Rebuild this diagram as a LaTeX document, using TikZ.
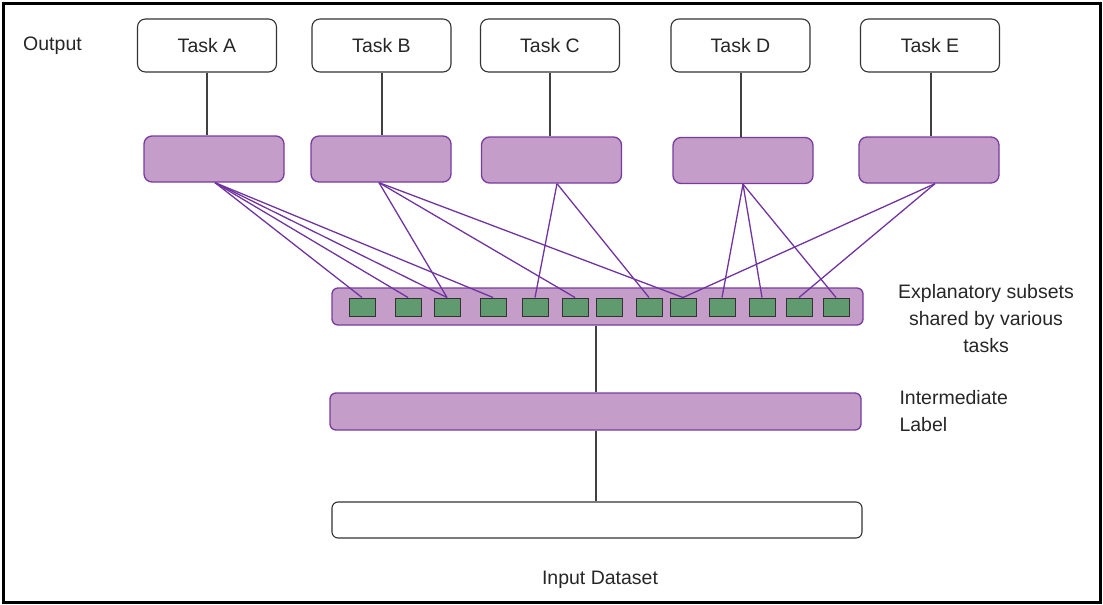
\documentclass[tikz,border=0pt]{standalone}
\usepackage{fontspec}
\setmainfont{Liberation Sans}
\begin{document}
\begin{tikzpicture}[x=1pt,y=-1pt,
  every node/.style={font=\fontsize{19.5}{27}\selectfont, text=black!85},
  taskbox/.style={draw=black!80, line width=1.1pt, rounded corners=8pt, fill=white, minimum width=139pt, minimum height=53pt, inner sep=0pt},
  pbox/.style={draw=pborder, line width=1.3pt, rounded corners=8pt, fill=pfill, minimum width=140pt, minimum height=46pt, inner sep=0pt},
  bar/.style={draw=pborder, line width=1.3pt, rounded corners=6pt, fill=pfill, inner sep=0pt},
  sq/.style={draw=black!80, line width=1pt, fill=sqgreen, minimum width=26pt, minimum height=18pt, inner sep=0pt},
  conn/.style={draw=pline, line width=1.3pt},
  stem/.style={draw=black!75, line width=1.6pt}
]
\definecolor{pfill}{RGB}{196,157,200}
\definecolor{pborder}{RGB}{120,60,160}
\definecolor{pline}{RGB}{112,52,160}
\definecolor{sqgreen}{RGB}{95,155,110}
\useasboundingbox (0,0) rectangle (1103,605);
\draw[line width=3pt, black] (3,3) rectangle (1100,602);

% task boxes
\node[taskbox] (tA) at (207,45.5) {Task A};
\node[taskbox] (tB) at (381.5,45.5) {Task B};
\node[taskbox] (tC) at (550,45.5) {Task C};
\node[taskbox] (tD) at (740.5,45.5) {Task D};
\node[taskbox] (tE) at (930,45.5) {Task E};
\node (out) at (52.5,45.5) {Output};

% purple boxes
\node[pbox] (pA) at (214,159) {};
\node[pbox] (pB) at (381,159) {};
\node[pbox] (pC) at (551.5,160) {};
\node[pbox] (pD) at (743,160.5) {};
\node[pbox] (pE) at (929,160) {};

\foreach \t/\p/\xx in {tA/pA/207,tB/pB/382,tC/pC/550,tD/pD/741,tE/pE/931}
  \draw[stem] (\t.south -| \xx,0) -- (\p.north -| \xx,0);

% strip and bars
\node[bar, minimum width=531pt, minimum height=37pt] (strip) at (597.5,306.5) {};
\node[bar, minimum width=531pt, minimum height=37pt] (inter) at (595.5,411.5) {};
\node[draw=black!80, line width=1.1pt, rounded corners=6pt, fill=white, minimum width=530pt, minimum height=36pt, inner sep=0pt] (input) at (597,520) {};

\draw[stem] (strip.south -| 596,0) -- (inter.north -| 596,0);
\draw[stem] (inter.south -| 596,0) -- (input.north -| 596,0);

% squares
\foreach \i/\xx in {1/362,2/408,3/447,4/493,5/535,6/575,7/609,8/649,9/683,10/722,11/762,12/799,13/836}
  \node[sq] (s\i) at (\xx,307) {};

% connectors
\coordinate (oA) at ([xshift=1pt]pA.south);
\coordinate (oB) at ([xshift=-2pt]pB.south);
\coordinate (oC) at ([xshift=5.5pt]pC.south);
\coordinate (oD) at (pD.south);
\coordinate (oE) at ([xshift=6pt]pE.south);
\foreach \o/\s in {oA/s1,oA/s2,oA/s3,oA/s4,oB/s3,oB/s6,oB/s9,oC/s5,oC/s8,oD/s10,oD/s11,oD/s13,oE/s9,oE/s12}
  \draw[conn] (\o) -- (\s.north);

% labels
\node[align=center] (expl) at (986,319) {Explanatory subsets\\shared by various\\tasks};
\node[align=left, anchor=west] (ilab) at (896,411) {Intermediate\\Label};
\node (inlab) at (600,580) {Input Dataset};
\end{tikzpicture}
\end{document}
